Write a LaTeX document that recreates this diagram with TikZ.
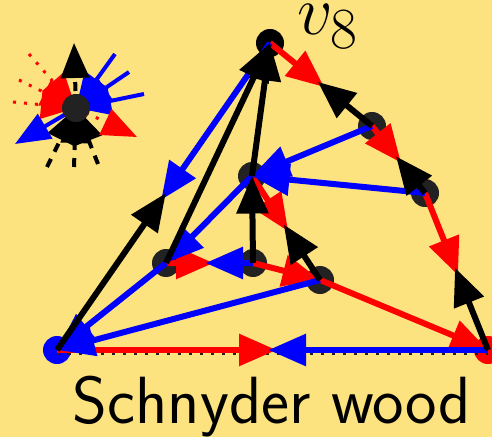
\documentclass[tikz,border=0pt]{standalone}
\usepackage{tikz}
\usetikzlibrary{arrows.meta, calc}
\definecolor{paper}{RGB}{253,226,128}
\definecolor{vgray}{RGB}{34,34,34}
\newcommand{\halfedge}[3]{\draw[swedge, shorten >=-0.8mm, #1] (#2.center) -- ($(#2.center)!.5!(#3.center)$);}

\begin{document}
\begin{tikzpicture}[x=0.2mm, y=-0.2mm,
    vtx/.style={circle, fill=vgray, inner sep=0pt, minimum size=5.6mm},
    swedge/.style={line width=1.2mm, -{Triangle[length=7.5mm, width=6.2mm]}},
    legarrow/.style={line width=0.8mm, -{Triangle[length=7mm, width=5.6mm]}},
    legdot/.style={legarrow, line width=0.6mm, dash pattern=on 0.6mm off 1.6mm},
    legdash/.style={legarrow, dash pattern=on 1.8mm off 1.6mm}]
    \path[use as bounding box, fill=paper] (0,0) rectangle (492,437);

    \node[vtx, fill=black] (v8) at (270,43) {};
    \node[vtx] (A) at (372,126) {};
    \node[vtx] (B) at (425,193) {};
    \node[vtx] (C) at (252,176) {};
    \node[vtx] (D) at (166,263) {};
    \node[vtx] (E) at (253,263) {};
    \node[vtx] (F) at (320,280) {};
    \node[vtx, fill=blue] (L) at (57,350) {};
    \node[vtx, fill=red] (R) at (488,350) {};
    \draw[line width=1.2mm, vgray, dash pattern=on 0.6mm off 1.6mm]
        ([yshift=-0.3mm]L.center) -- ([yshift=-0.3mm]R.center);

    % red
    \halfedge{red}{v8}{A}
    \halfedge{red}{A}{B}
    \halfedge{red}{B}{R}
    \halfedge{red}{L}{R}
    \halfedge{red}{C}{F}
    \halfedge{red}{D}{E}
    \foreach \a/\b in {E/F, F/R} \draw[swedge, red] (\a.center) -- (\b.center);
    % blue
    \halfedge{blue}{R}{L}
    \halfedge{blue}{v8}{L}
    \halfedge{blue}{E}{D}
    \foreach \a/\b in {A/C, B/C, C/D, D/L, F/L} \draw[swedge, blue] (\a.center) -- (\b.center);
    % black
    \halfedge{black}{A}{v8}
    \halfedge{black}{B}{A}
    \halfedge{black}{R}{B}
    \halfedge{black}{L}{v8}
    \halfedge{black}{F}{C}
    \foreach \a/\b in {D/v8, C/v8, E/C} \draw[swedge, black] (\a.center) -- (\b.center);

    % legend
    \coordinate (lc) at (76,108);
    \coordinate (lup) at (74,43);
    \coordinate (lleft) at (15,144);
    \coordinate (lright) at (137,137);
    \coordinate (lr1) at (29,54);   \coordinate (lr2) at (19,80);   \coordinate (lr3) at (13,102);
    \coordinate (lb1) at (115,54);  \coordinate (lb2) at (129,72);  \coordinate (lb3) at (144,94);
    \coordinate (lk1) at (47,167);  \coordinate (lk2) at (74,167);  \coordinate (lk3) at (98,164);
    \foreach \i in {1,2,3} {
        \draw[legdot, red] (lr\i) -- (lc);
        \draw[legarrow, blue] (lb\i) -- (lc);
        \draw[legdash, black] (lk\i) -- (lc);
    }
    \draw[legdash, black] (lc) -- (lup);
    \draw[legarrow, blue] (lc) -- (lleft);
    \draw[legdot, red] (lc) -- (lright);
    \node[vtx] (lv) at (lc) {};

    \node[anchor=base, inner sep=0pt, font=\Huge, scale=1.6] (title) at (328,35) {$v_8$};
    \node[anchor=base, font=\sffamily\fontsize{38}{46}\selectfont] (caption) at (272,423) {Schnyder wood};
\end{tikzpicture}
\end{document}
